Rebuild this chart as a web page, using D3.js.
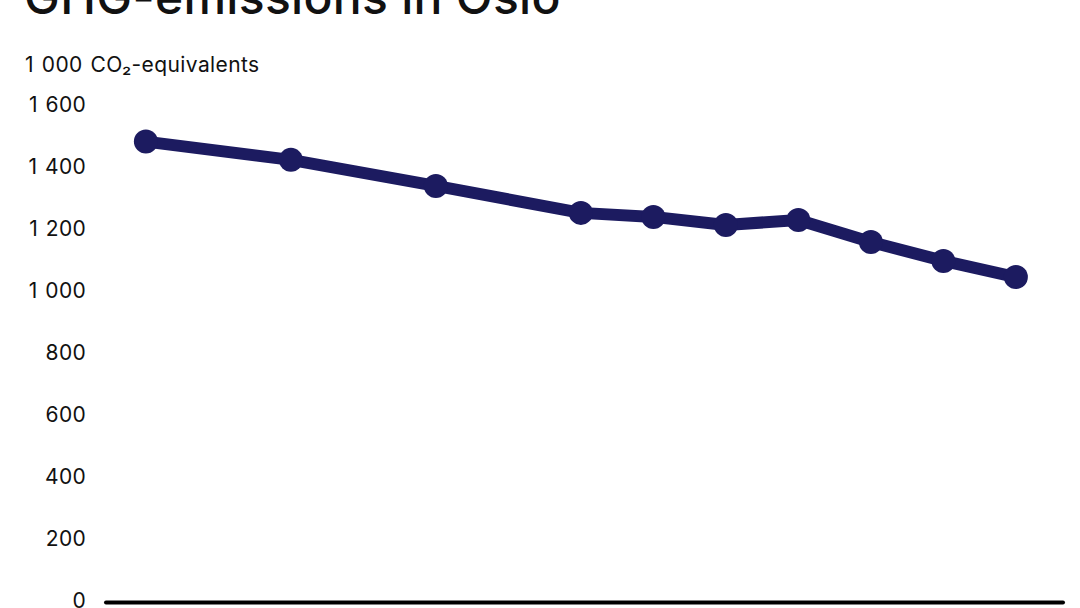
<!DOCTYPE html>
<html>
<head>
<meta charset="utf-8">
<script src="https://cdn.jsdelivr.net/npm/d3@7"></script>
<style>
  html, body { margin: 0; padding: 0; background: #fff; }
  svg { display: block; font-family: Inter, "Noto Sans", sans-serif; }
</style>
</head>
<body>
<svg id="chart"></svg>
<script>
// data
const years = [2009, 2011, 2013, 2015, 2016, 2017, 2018, 2019, 2020, 2021];
const emissions = [1482, 1423, 1339, 1252, 1239, 1213, 1229, 1158, 1097, 1045];
const yTicks = [0, 200, 400, 600, 800, 1000, 1200, 1400, 1600];
const title = "GHG-emissions in Oslo";
const unitLabel = "1 000 CO\u2082-equivalents";

const width = 1080;
const height = 608;
const color = "#1c1b60";

const svg = d3.select("#chart")
  .attr("width", width)
  .attr("height", height)
  .attr("viewBox", [0, 0, width, height]);

const x = d3.scaleLinear().domain([2008.45, 2021.65]).range([106, 1063]);
const y = d3.scaleLinear().domain([0, 1600]).range([601, 105]);

// title, cut at the top like the original
svg.append("text")
  .attr("x", 24)
  .attr("y", 14)
  .attr("font-size", 48)
  .attr("font-weight", 500)
  .attr("letter-spacing", 0.3)
  .attr("fill", "#111")
  .text(title);

svg.append("text")
  .attr("x", 25)
  .attr("y", 72)
  .attr("font-size", 21)
  .attr("letter-spacing", 0.4)
  .attr("word-spacing", 1.5)
  .attr("fill", "#111")
  .text(unitLabel);

// y axis labels only
const fmt = (v) => d3.format(",")(v).replace(/,/g, " ");
svg.append("g")
  .attr("transform", "translate(86,0)")
  .call(d3.axisLeft(y).tickValues(yTicks).tickFormat(fmt).tickSize(0).tickPadding(0))
  .call((g) => g.select(".domain").remove())
  .call((g) => g.selectAll("text")
    .attr("font-size", 21)
    .attr("letter-spacing", 0.3)
    .attr("word-spacing", 1.5)
    .attr("font-family", "Inter, 'Noto Sans', sans-serif")
    .attr("fill", "#111"));

// baseline
svg.append("line")
  .attr("x1", x.range()[0])
  .attr("x2", x.range()[1])
  .attr("y1", y(0) + 1.5)
  .attr("y2", y(0) + 1.5)
  .attr("stroke", "#000")
  .attr("stroke-width", 4)
  .attr("stroke-linecap", "round");

const line = d3.line()
  .x((d, i) => x(years[i]))
  .y((d) => y(d));

svg.append("path")
  .datum(emissions)
  .attr("fill", "none")
  .attr("stroke", color)
  .attr("stroke-width", 12)
  .attr("stroke-linejoin", "round")
  .attr("d", line);

svg.append("g")
  .attr("fill", color)
  .selectAll("circle")
  .data(emissions)
  .join("circle")
  .attr("cx", (d, i) => x(years[i]))
  .attr("cy", (d) => y(d))
  .attr("r", 12);
</script>
</body>
</html>
